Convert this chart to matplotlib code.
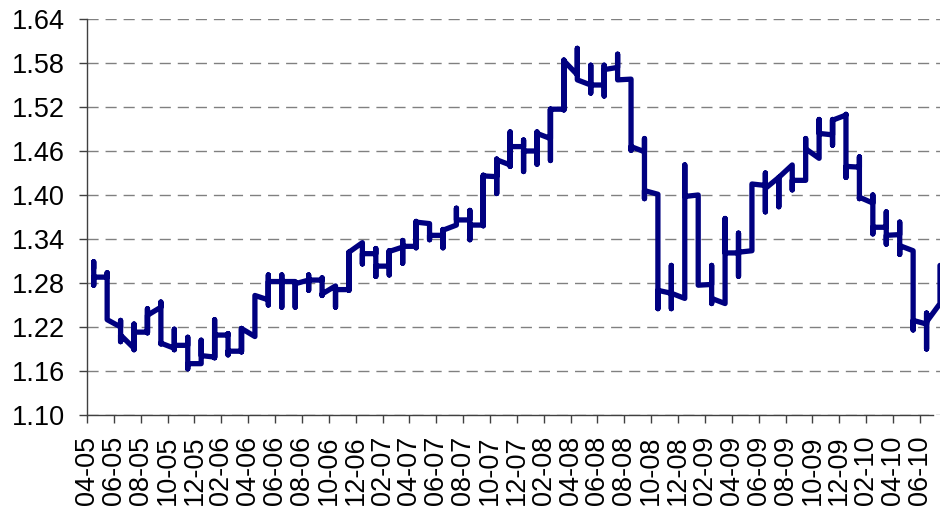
import numpy as np
import matplotlib.pyplot as plt

# monthly buckets, Apr-05 .. Jul-10; every weekly value of a month sits on the same x
rates = [
    [1.300, 1.309, 1.277, 1.288],  # 04-05
    [1.288, 1.294, 1.230, 1.230],
    [1.220, 1.229, 1.200, 1.209],
    [1.191, 1.224, 1.189, 1.213],
    [1.213, 1.245, 1.212, 1.236],
    [1.247, 1.254, 1.197, 1.198],
    [1.191, 1.217, 1.189, 1.195],
    [1.195, 1.206, 1.163, 1.170],
    [1.170, 1.202, 1.170, 1.181],
    [1.179, 1.230, 1.178, 1.209],
    [1.209, 1.211, 1.182, 1.187],
    [1.187, 1.218, 1.186, 1.218],
    [1.207, 1.263, 1.207, 1.263],  # 04-06
    [1.257, 1.291, 1.250, 1.282],
    [1.282, 1.291, 1.247, 1.282],
    [1.282, 1.282, 1.247, 1.279],
    [1.284, 1.291, 1.270, 1.284],
    [1.284, 1.287, 1.263, 1.265],
    [1.276, 1.276, 1.247, 1.271],
    [1.271, 1.322, 1.270, 1.322],
    [1.335, 1.335, 1.306, 1.320],
    [1.320, 1.327, 1.289, 1.303],
    [1.303, 1.324, 1.291, 1.323],
    [1.329, 1.338, 1.307, 1.330],
    [1.330, 1.364, 1.328, 1.363],  # 04-07
    [1.361, 1.361, 1.339, 1.345],
    [1.345, 1.353, 1.328, 1.352],
    [1.359, 1.382, 1.359, 1.366],
    [1.366, 1.379, 1.339, 1.359],
    [1.359, 1.427, 1.358, 1.426],
    [1.425, 1.449, 1.402, 1.448],
    [1.441, 1.486, 1.439, 1.466],
    [1.466, 1.475, 1.432, 1.460],
    [1.460, 1.486, 1.442, 1.484],
    [1.477, 1.517, 1.447, 1.517],
    [1.517, 1.584, 1.516, 1.583],
    [1.564, 1.600, 1.557, 1.557],  # 04-08
    [1.550, 1.577, 1.539, 1.550],
    [1.550, 1.577, 1.535, 1.571],
    [1.574, 1.592, 1.557, 1.557],
    [1.558, 1.558, 1.461, 1.466],
    [1.459, 1.477, 1.395, 1.406],
    [1.401, 1.401, 1.245, 1.270],
    [1.266, 1.304, 1.245, 1.266],
    [1.259, 1.441, 1.259, 1.398],
    [1.400, 1.400, 1.277, 1.277],
    [1.278, 1.304, 1.252, 1.259],
    [1.252, 1.368, 1.252, 1.321],
    [1.321, 1.348, 1.289, 1.322],  # 04-09
    [1.324, 1.415, 1.324, 1.415],
    [1.413, 1.430, 1.377, 1.409],
    [1.424, 1.424, 1.384, 1.424],
    [1.441, 1.441, 1.407, 1.420],
    [1.420, 1.477, 1.420, 1.463],
    [1.450, 1.503, 1.450, 1.484],
    [1.482, 1.503, 1.468, 1.502],
    [1.509, 1.510, 1.424, 1.439],
    [1.438, 1.452, 1.395, 1.397],
    [1.389, 1.400, 1.347, 1.356],
    [1.356, 1.377, 1.333, 1.345],
    [1.346, 1.363, 1.319, 1.331],  # 04-10
    [1.324, 1.324, 1.216, 1.229],
    [1.224, 1.239, 1.190, 1.227],
    [1.252, 1.304],
]

tick_labels = ['04-05', '06-05', '08-05', '10-05', '12-05',
               '02-06', '04-06', '06-06', '08-06', '10-06', '12-06',
               '02-07', '04-07', '06-07', '08-07', '10-07', '12-07',
               '02-08', '04-08', '06-08', '08-08', '10-08', '12-08',
               '02-09', '04-09', '06-09', '08-09', '10-09', '12-09',
               '02-10', '04-10', '06-10']
y_ticks = [1.10, 1.16, 1.22, 1.28, 1.34, 1.40, 1.46, 1.52, 1.58, 1.64]

# flatten: point sits in the middle of its month
x, y = [], []
for i, vals in enumerate(rates):
    for v in vals:
        x.append(i + 0.5)
        y.append(v)

plt.rcParams['font.family'] = ['Liberation Sans', 'DejaVu Sans']

fig = plt.figure(figsize=(9.4, 5.19), dpi=100)
ax = fig.add_axes([87 / 940, 104 / 519, 853 / 940, 396 / 519])

ax.plot(x, y, color='#000080', lw=3.8, solid_joinstyle='round',
        solid_capstyle='round', zorder=3)

ax.set_xlim(0, 63.5)
ax.set_ylim(1.10, 1.64)

ax.set_yticks(y_ticks)
ax.set_yticklabels([f'{t:.2f}' for t in y_ticks])
ax.set_xticks(np.arange(0, 2 * len(tick_labels), 2))
ax.set_xticklabels(tick_labels, rotation=90)

ax.yaxis.grid(True, color='#808080', lw=1.0, linestyle=(0, (8, 5)))
ax.set_axisbelow(True)

for side in ['top', 'right']:
    ax.spines[side].set_visible(False)
ax.spines['bottom'].set_bounds(0, 63)
for side in ['left', 'bottom']:
    ax.spines[side].set_color('#404040')
    ax.spines[side].set_linewidth(1.0)

ax.tick_params(axis='both', direction='out', length=6, width=1.0,
               color='#404040', labelsize=19.5, labelcolor='black')
ax.tick_params(axis='y', pad=10)
ax.tick_params(axis='x', pad=9)

fig.savefig('out.png', dpi=100)
